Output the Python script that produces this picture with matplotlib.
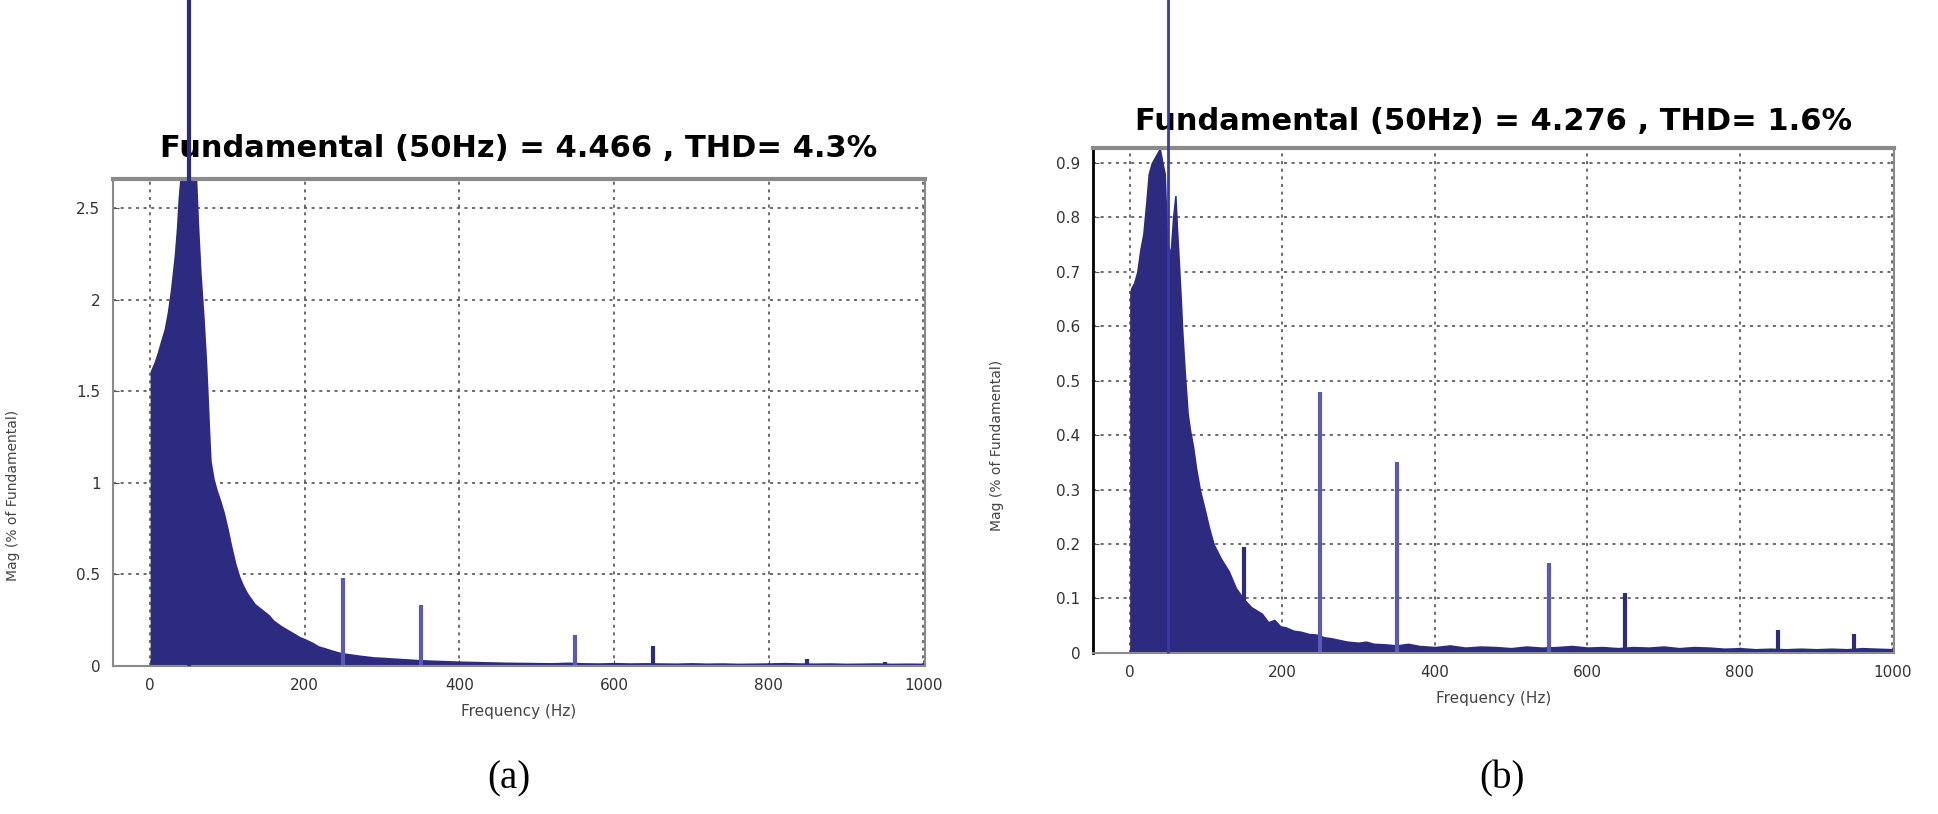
import matplotlib.pyplot as plt

# spectrum envelopes (Hz, % of fundamental)
freq_a = [0, 2, 5, 9, 13, 18, 22, 26, 31, 34, 36, 40, 45, 50, 55, 60, 63, 66, 70, 73,
          75, 77, 79, 83, 87, 91, 96, 101, 106, 111, 116, 121, 126, 131, 136, 142, 148,
          154, 160, 170, 178, 186, 194, 200, 210, 218, 226, 235, 243, 250, 260, 270, 280,
          290, 300, 318, 330, 345, 360, 380, 400, 420, 440, 460, 480, 500, 520, 540, 560,
          580, 600, 620, 640, 660, 680, 700, 720, 740, 760, 780, 800, 820, 840, 860, 880,
          900, 920, 940, 960, 980, 1000]
mag_a = [1.61, 1.63, 1.66, 1.71, 1.77, 1.84, 1.93, 2.05, 2.24, 2.40, 2.55, 2.75, 2.80, 2.80,
         2.78, 2.70, 2.40, 2.15, 1.90, 1.68, 1.50, 1.30, 1.12, 1.02, 0.96, 0.91, 0.84, 0.75,
         0.65, 0.56, 0.49, 0.44, 0.40, 0.37, 0.34, 0.32, 0.30, 0.28, 0.25, 0.22, 0.20, 0.18,
         0.16, 0.15, 0.13, 0.11, 0.10, 0.088, 0.078, 0.072, 0.066, 0.06, 0.055, 0.05, 0.048,
         0.043, 0.04, 0.036, 0.033, 0.03, 0.027, 0.025, 0.023, 0.021, 0.02, 0.019, 0.018,
         0.021, 0.018, 0.017, 0.019, 0.017, 0.018, 0.017, 0.016, 0.018, 0.016, 0.017, 0.015,
         0.016, 0.017, 0.019, 0.017, 0.016, 0.017, 0.015, 0.016, 0.017, 0.015, 0.016, 0.015]

freq_b = [0, 1, 5, 9, 13, 17, 21, 24, 28, 32, 36, 40, 44, 47, 50, 53, 56, 59, 61, 63,
          65, 68, 70, 73, 77, 80, 84, 88, 93, 100, 105, 111, 120, 131, 140, 150, 160, 174,
          182, 190, 198, 205, 215, 225, 235, 245, 255, 265, 275, 285, 300, 310, 320, 335,
          350, 365, 380, 400, 420, 440, 460, 480, 500, 520, 540, 560, 580, 600, 620, 640,
          660, 680, 700, 720, 740, 760, 780, 800, 820, 840, 860, 880, 900, 920, 940, 960,
          980, 1000]
mag_b = [0.66, 0.67, 0.68, 0.70, 0.74, 0.77, 0.83, 0.88, 0.90, 0.91, 0.92, 0.93, 0.90, 0.88,
         0.76, 0.74, 0.80, 0.84, 0.84, 0.78, 0.73, 0.65, 0.59, 0.52, 0.44, 0.41, 0.38, 0.34,
         0.30, 0.26, 0.23, 0.20, 0.175, 0.15, 0.12, 0.10, 0.085, 0.073, 0.058, 0.062, 0.05,
         0.048, 0.042, 0.040, 0.036, 0.035, 0.03, 0.028, 0.025, 0.022, 0.02, 0.022, 0.018,
         0.017, 0.015, 0.018, 0.014, 0.012, 0.015, 0.011, 0.013, 0.012, 0.010, 0.013, 0.011,
         0.012, 0.014, 0.011, 0.012, 0.010, 0.012, 0.011, 0.013, 0.010, 0.012, 0.011, 0.009,
         0.010, 0.008, 0.009, 0.008, 0.009, 0.008, 0.009, 0.008, 0.010, 0.009, 0.008]

# harmonic spikes
harm_freq = [150, 250, 350, 550, 650, 850, 950]
harm_a = [0.28, 0.48, 0.33, 0.17, 0.11, 0.04, 0.02]
harm_b = [0.195, 0.48, 0.35, 0.165, 0.11, 0.042, 0.035]
harm_light = [False, True, True, True, False, False, False]

fund_freq = 50
titles = ['Fundamental (50Hz) = 4.466 , THD= 4.3%',
          'Fundamental (50Hz) = 4.276 , THD= 1.6%']
captions = ['(a)', '(b)']

navy = '#2c2b80'
light = '#5a5ab6'

fig = plt.figure(figsize=(19.38, 8.14), dpi=100)
ax_a = fig.add_axes([0.0583, 0.182, 0.419, 0.598])
ax_b = fig.add_axes([0.564, 0.198, 0.4133, 0.620])

panels = [
    (ax_a, freq_a, mag_a, harm_a, 2.66, [0, 0.5, 1, 1.5, 2, 2.5], ['0', '0.5', '1', '1.5', '2', '2.5'], 16, (-0.115, 0.35)),
    (ax_b, freq_b, mag_b, harm_b, 0.927, [0, 0.1, 0.2, 0.3, 0.4, 0.5, 0.6, 0.7, 0.8, 0.9],
     ['0', '0.1', '0.2', '0.3', '0.4', '0.5', '0.6', '0.7', '0.8', '0.9'], 13, (-0.111, 0.41)),
]

for i, (ax, fr, mg, hm, ytop, yt, ytl, pad, ylpos) in enumerate(panels):
    ax.fill_between(fr, mg, color=navy, lw=0, zorder=2)
    for f, h, lt in zip(harm_freq, hm, harm_light):
        ax.vlines(f, 0, h, color=light if lt else navy, lw=3, zorder=2)
    ax.vlines(fund_freq, 0, 100, color=navy if i == 0 else '#3a3aa6',
              lw=3 if i == 0 else 2, clip_on=False, zorder=4)

    ax.set_xlim(-48, 1002)
    ax.set_ylim(0, ytop)
    ax.set_xticks([0, 200, 400, 600, 800, 1000])
    ax.set_yticks(yt)
    ax.set_yticklabels(ytl)
    ax.tick_params(direction='in', length=4, labelsize=11, labelcolor='#333333', colors='#555555', pad=9)
    ax.grid(True, color='#444444', linestyle=(0, (2, 3)), linewidth=1.1, zorder=1)
    ax.set_axisbelow(True)

    for s in ['top', 'right', 'bottom', 'left']:
        ax.spines[s].set_color('#8a8a8a')
        ax.spines[s].set_linewidth(1.5)
    ax.spines['top'].set_linewidth(3)
    if i == 1:
        ax.spines['left'].set_color('black')
        ax.spines['left'].set_linewidth(2)

    ax.set_title(titles[i], fontsize=22, fontweight='heavy', pad=pad)
    ax.set_xlabel('Frequency (Hz)', fontsize=11, color='#444444', labelpad=8)
    ax.set_ylabel('Mag (% of Fundamental)', fontsize=10, color='#444444')
    ax.yaxis.set_label_coords(*ylpos)

fig.text(509 / 1938, 1 - 779 / 814, captions[0], family='Liberation Serif', fontsize=28, ha='center', va='center')
fig.text(1502 / 1938, 1 - 779 / 814, captions[1], family='Liberation Serif', fontsize=28, ha='center', va='center')

fig.savefig('out.png', dpi=100)
